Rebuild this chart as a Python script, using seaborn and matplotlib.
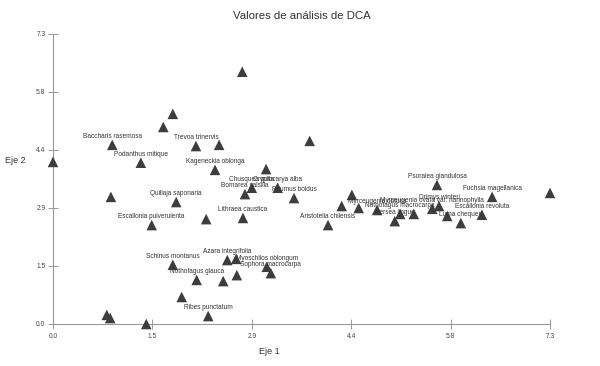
import numpy as np
import pandas as pd
import matplotlib
matplotlib.use('Agg')
import matplotlib.pyplot as plt
import seaborn as sns

# DCA scores (axis 1, axis 2), one entry per species
eje1 = [0.00, 0.87, 1.29, 1.62, 1.76, 2.10, 2.44, 2.78, 2.38, 3.13,
        3.77, 2.92, 3.30, 2.82, 3.54, 2.25, 2.79, 0.85, 1.81, 1.45,
        4.04, 4.39, 4.24, 4.49, 4.76, 5.02, 5.10, 5.30, 5.57, 5.67,
        5.64, 5.79, 5.99, 6.30, 6.45, 7.30, 1.76, 2.56, 2.69, 3.14,
        3.20, 2.11, 2.50, 2.70, 1.89, 2.28, 0.79, 0.84, 1.37]
eje2 = [4.08, 4.51, 4.06, 4.96, 5.29, 4.48, 4.51, 6.35, 3.88, 3.90,
        4.61, 3.43, 3.43, 3.27, 3.17, 2.64, 2.67, 3.20, 3.07, 2.49,
        2.49, 3.25, 2.97, 2.92, 2.87, 2.59, 2.77, 2.77, 2.90, 2.97,
        3.50, 2.72, 2.54, 2.75, 3.20, 3.30, 1.49, 1.61, 1.64, 1.44,
        1.28, 1.11, 1.08, 1.23, 0.68, 0.20, 0.23, 0.15, 0.00]
especies = ['', 'Baccharis rasemosa', 'Podanthus mitique', '', '',
            'Trevoa trinervis', '', '', 'Kageneckia oblonga', '',
            '', 'Chusquea quila', 'Cryptocarya alba', 'Bomarea salsilla', 'Peumus boldus',
            '', 'Lithraea caustica', '', 'Quillaja saponaria', 'Escallonia pulverulenta',
            'Aristotelia chilensis', '', '', '', 'Myrceugenia obtusa',
            'Persea lingue', 'Nothofagus macrocarpa', '', 'Myrceugenia ovata var. nannophylla', 'Drimys winteri',
            'Psoralea glandulosa', '', 'Luma chequen', 'Escallonia revoluta', 'Fuchsia magellanica',
            '', 'Schinus montanus', 'Azara integrifolia', '', 'Myoschilos oblongum',
            'Sophora macrocarpa', 'Nothofagus glauca', '', '', '',
            'Ribes punctatum', '', '', '']

ticks = np.linspace(0, 7.3, 6)
tick_labels = [f'{t:.1f}' for t in ticks]

df = pd.DataFrame({'eje1': eje1, 'eje2': eje2, 'especie': especies})

sns.set_style('white')
plt.rcParams['font.family'] = ['Liberation Sans', 'DejaVu Sans']

fig = plt.figure(figsize=(6, 3.66), dpi=100)
ax = fig.add_axes([53 / 600, 42 / 366, 497 / 600, 290 / 366])

sns.scatterplot(data=df, x='eje1', y='eje2', marker='^', s=58, color='#3d3d3d',
                edgecolor='none', ax=ax, clip_on=False, zorder=3)

for _, row in df.iterrows():
    if row['especie']:
        ax.annotate(row['especie'], (row['eje1'], row['eje2']), xytext=(0, 6),
                    textcoords='offset points', ha='center', va='center',
                    fontsize=4.7, color='#333333', zorder=4)

ax.set_xlim(0, 7.3)
ax.set_ylim(0, 7.3)
ax.set_xticks(ticks)
ax.set_xticklabels(tick_labels)
ax.set_yticks(ticks)
ax.set_yticklabels(tick_labels)
ax.tick_params(direction='inout', length=7, width=0.6, colors='#888888',
               labelsize=4.8, labelcolor='#444444', pad=2)
ax.tick_params(axis='x', pad=3)
ax.tick_params(bottom=True, left=True)
for side in ['top', 'right']:
    ax.spines[side].set_visible(False)
for side in ['left', 'bottom']:
    ax.spines[side].set_color('#999999')
    ax.spines[side].set_linewidth(0.8)
ax.set_xlabel('')
ax.set_ylabel('')

fig.text(302 / 600, 1 - 16 / 366, 'Valores de análisis de DCA', ha='center', va='center',
         fontsize=8.2, color='#333333')
fig.text(269 / 600, 1 - 352 / 366, 'Eje 1', ha='center', va='center', fontsize=6.5, color='#333333')
fig.text(15 / 600, 1 - 160 / 366, 'Eje 2', ha='center', va='center', fontsize=6.5, color='#333333')

fig.savefig('out.png', dpi=100)
